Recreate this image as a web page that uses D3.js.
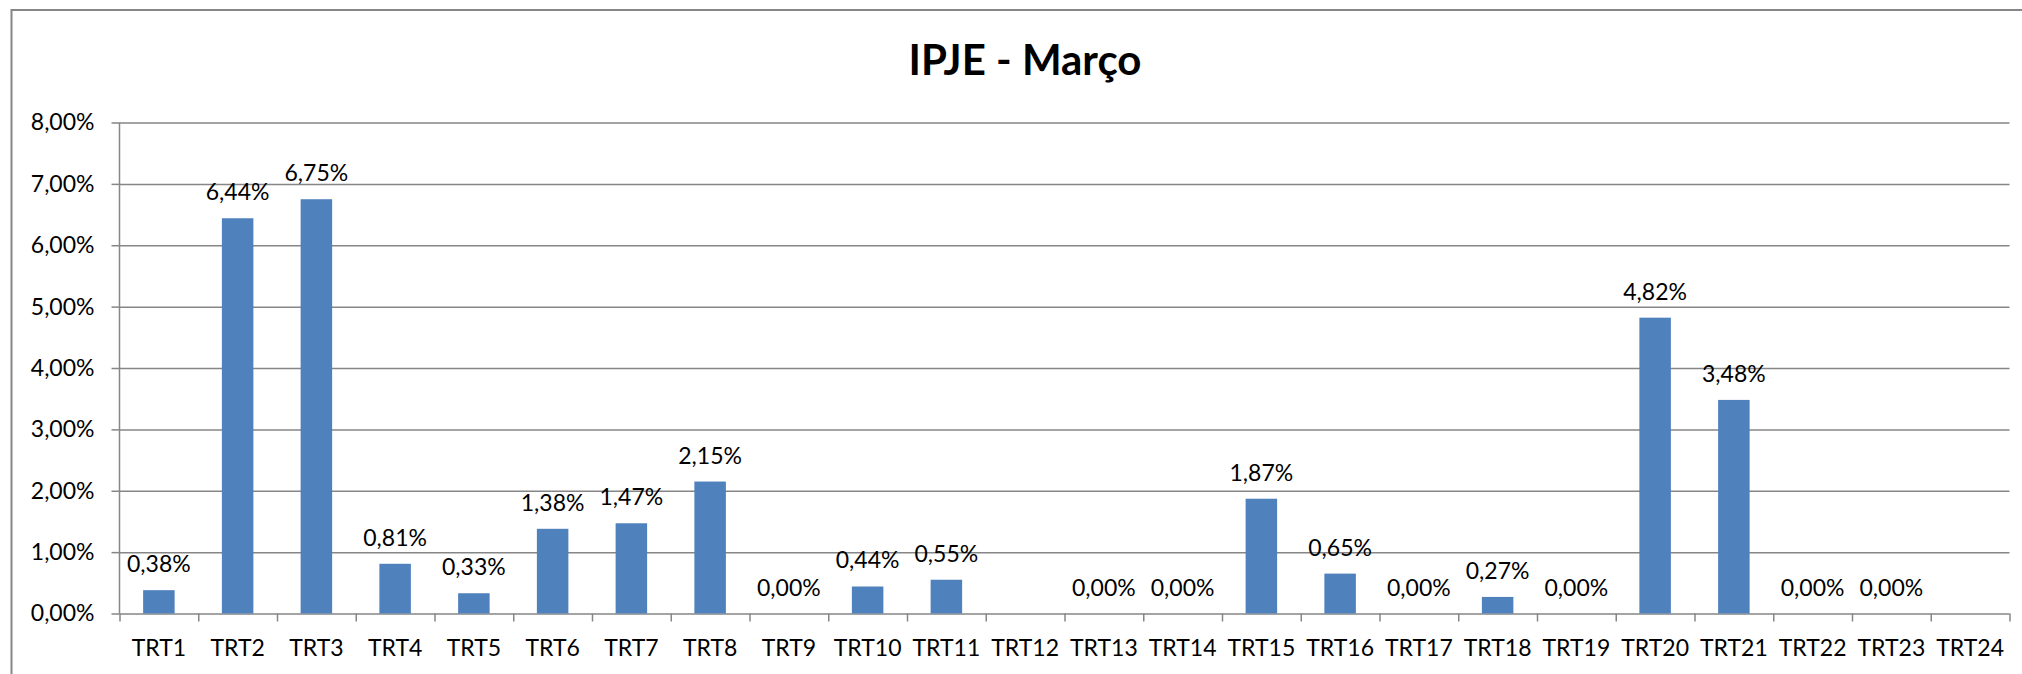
<!DOCTYPE html>
<html>
<head>
<meta charset="utf-8">
<script src="https://cdn.jsdelivr.net/npm/d3@7"></script>
<style>
	body { margin: 0; background: #fff; }
	text { font-family: Lato, "Open Sans", sans-serif; fill: #000; }
	.axis path { display: none; }
	.axis line { stroke: #868686; stroke-width: 1.5px; }
	.grid line { stroke: #868686; stroke-width: 1.5px; }
</style>
</head>
<body>
<script>
// data
const categories = ["TRT1","TRT2","TRT3","TRT4","TRT5","TRT6","TRT7","TRT8","TRT9","TRT10","TRT11","TRT12",
	"TRT13","TRT14","TRT15","TRT16","TRT17","TRT18","TRT19","TRT20","TRT21","TRT22","TRT23","TRT24"];
// percent; null = no value shown
const values = [0.38, 6.44, 6.75, 0.81, 0.33, 1.38, 1.47, 2.15, 0.00, 0.44, 0.55, null,
	0.00, 0.00, 1.87, 0.65, 0.00, 0.27, 0.00, 4.82, 3.48, 0.00, 0.00, null];
const yTicks = [0, 1, 2, 3, 4, 5, 6, 7, 8];
const title = "IPJE - Março";

function drawChart(){
	const width = 2022;
	const height = 674;
	const margin = {top:122.5, bottom:60.5, left:119.5, right:12.5};
	const innerWidth = width - margin.left - margin.right;
	const innerHeight = height - margin.top - margin.bottom;

	const fmt = v => v.toFixed(2).replace(".", ",") + "%";

	let svg = d3.select("body")
		.append("svg")
		.attr("width", width)
		.attr("height", height);

	//outer chart border (right and bottom edges fall outside the picture)
	svg.append("rect")
		.attr("x", 11.5).attr("y", 10)
		.attr("width", 2100).attr("height", 800)
		.attr("fill", "none")
		.attr("stroke", "#868686")
		.attr("stroke-width", 2);

	svg.append("text")
		.attr("x", 1025).attr("y", 75)
		.attr("text-anchor", "middle")
		.style("font-size", "42px")
		.style("font-weight", "bold")
		.text(title);

	let yScale = d3.scaleLinear()
		.domain([0, 8])
		.range([innerHeight, 0]);
	let xScale = d3.scaleBand()
		.domain(categories)
		.range([0, innerWidth])
		.paddingInner(0.6)
		.paddingOuter(0.3);
	//category boundaries for the tick marks
	let xEdges = d3.scaleLinear()
		.domain([0, categories.length])
		.range([0, innerWidth]);

	let g = svg.append("g")
		.attr("transform", "translate(" + margin.left + "," + margin.top + ")");

	//gridlines
	g.append("g")
		.attr("class", "grid")
		.call(d3.axisLeft(yScale).tickValues(yTicks).tickSize(-innerWidth).tickFormat(""))
		.call(s => s.select(".domain").remove());

	//y-axis
	g.append("g")
		.attr("class", "axis axis--y")
		.call(d3.axisLeft(yScale).tickValues(yTicks).tickSize(8).tickPadding(17).tickFormat(fmt))
		.call(s => s.selectAll("text").style("font-size", "23px"));
	g.append("line")
		.attr("x1", 0).attr("x2", 0)
		.attr("y1", 0).attr("y2", innerHeight)
		.attr("stroke", "#868686").attr("stroke-width", 1.5);

	//x-axis tick marks at category edges
	g.append("g")
		.attr("class", "axis axis--x")
		.attr("transform", "translate(0," + innerHeight + ")")
		.call(d3.axisBottom(xEdges).tickValues(d3.range(categories.length + 1)).tickSize(8).tickFormat(""));
	//x-axis labels
	g.append("g")
		.attr("class", "axis axis--x")
		.attr("transform", "translate(0," + innerHeight + ")")
		.call(d3.axisBottom(xScale).tickSize(0).tickPadding(26))
		.call(s => s.selectAll("text").style("font-size", "23px"));

	const shown = categories.map((c, i) => ({cat: c, val: values[i]})).filter(d => d.val !== null);

	//bars
	g.selectAll(".bar")
		.data(shown)
		.enter().append("rect")
			.attr("class", "bar")
			.attr("x", d => xScale(d.cat))
			.attr("width", xScale.bandwidth())
			.attr("y", d => yScale(d.val))
			.attr("height", d => innerHeight - yScale(d.val))
			.attr("fill", "#4f81bd");

	//value labels
	g.selectAll(".label")
		.data(shown)
		.enter().append("text")
			.attr("class", "label")
			.attr("x", d => xScale(d.cat) + xScale.bandwidth() / 2)
			.attr("y", d => yScale(d.val) - 18)
			.attr("text-anchor", "middle")
			.style("font-size", "23px")
			.text(d => fmt(d.val));
}

drawChart();
</script>
</body>
</html>
